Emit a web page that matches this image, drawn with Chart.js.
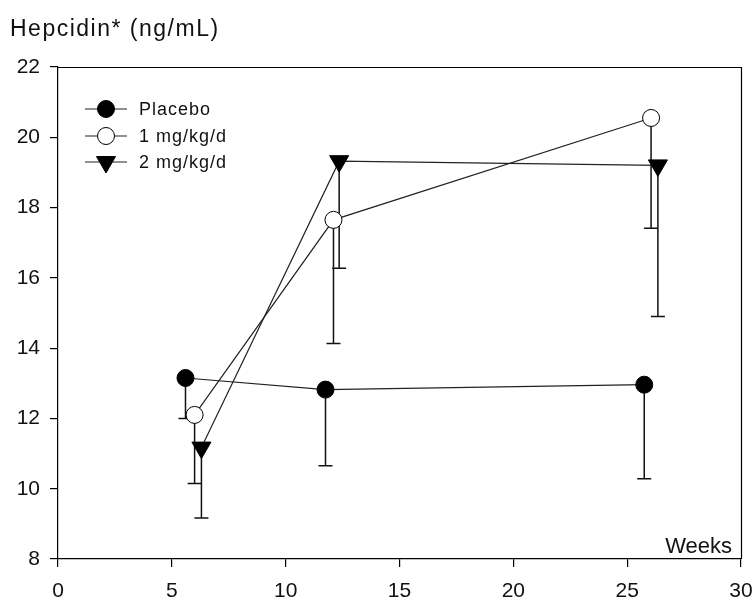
<!DOCTYPE html>
<html>
<head>
<meta charset="utf-8">
<script src="https://cdn.jsdelivr.net/npm/chart.js@4.4.0/dist/chart.umd.min.js"></script>
<style>
html,body{margin:0;padding:0;background:#fff;}
#wrap{width:756px;height:599px;}
</style>
</head>
<body>
<div id="wrap"><canvas id="c" width="756" height="599"></canvas></div>
<script>
// ---- data ----
const seriesNames = ["Placebo", "1 mg/kg/d", "2 mg/kg/d"];
const placeboWeeks = [5.6, 11.75, 25.75];
const placeboMean  = [13.15, 12.82, 12.96];
const placeboLower = [12.0, 10.65, 10.28];
const dose1Weeks = [6.0, 12.1, 26.05];
const dose1Mean  = [12.1, 17.65, 20.55];
const dose1Lower = [10.15, 14.13, 17.41];
const dose2Weeks = [6.3, 12.35, 26.35];
const dose2Mean  = [11.17, 19.32, 19.2];
const dose2Lower = [9.17, 16.27, 14.9];
const xTicks = [0, 5, 10, 15, 20, 25, 30];
const yTicks = [8, 10, 12, 14, 16, 18, 20, 22];
const titleText = "Hepcidin* (ng/mL)";
const xTitleText = "Weeks";

function pts(w, m) { return w.map((x, i) => ({x: x, y: m[i]})); }

const styles = [
  {pointStyle: 'circle', radius: 8.5, fill: '#000', rotation: 0},
  {pointStyle: 'circle', radius: 8.5, fill: '#fff', rotation: 0},
  {pointStyle: 'triangle', radius: 11, fill: '#000', rotation: 180}
];
const lowers = [placeboLower, dose1Lower, dose2Lower];

const datasets = [
  [placeboWeeks, placeboMean], [dose1Weeks, dose1Mean], [dose2Weeks, dose2Mean]
].map((d, i) => ({
  label: seriesNames[i],
  data: pts(d[0], d[1]),
  borderColor: '#222',
  borderWidth: 1.2,
  pointStyle: styles[i].pointStyle,
  pointRadius: styles[i].radius,
  pointRotation: styles[i].rotation,
  pointBackgroundColor: styles[i].fill,
  pointBorderColor: '#000',
  pointBorderWidth: 1,
  showLine: true,
  tension: 0
}));

const FONT = '"Liberation Sans", Arial, sans-serif';

const extras = {
  id: 'extras',
  beforeDatasetsDraw(chart) {
    const ctx = chart.ctx;
    const xs = chart.scales.x, ys = chart.scales.y;
    ctx.save();
    ctx.strokeStyle = '#111';
    ctx.lineWidth = 1.5;
    chart.data.datasets.forEach((ds, i) => {
      ds.data.forEach((p, j) => {
        const px = xs.getPixelForValue(p.x);
        const py = ys.getPixelForValue(p.y);
        const pl = ys.getPixelForValue(lowers[i][j]);
        ctx.beginPath();
        ctx.moveTo(px, py);
        ctx.lineTo(px, pl);
        ctx.moveTo(px - 7, pl);
        ctx.lineTo(px + 7, pl);
        ctx.stroke();
      });
    });
    ctx.restore();
  },
  afterDraw(chart) {
    const ctx = chart.ctx;
    const a = chart.chartArea;
    ctx.save();
    // box
    ctx.strokeStyle = '#000';
    ctx.lineWidth = 1.2;
    ctx.beginPath();
    ctx.moveTo(a.left, a.top + 0.5);
    ctx.lineTo(a.right + 0.5, a.top + 0.5);
    ctx.lineTo(a.right + 0.5, a.bottom);
    ctx.stroke();
    // title
    ctx.fillStyle = '#111';
    ctx.textBaseline = 'alphabetic';
    ctx.textAlign = 'left';
    ctx.font = '23px ' + FONT;
    ctx.letterSpacing = '1.5px';
    ctx.fillText(titleText, 10, 36);
    ctx.letterSpacing = '0px';
    // x title
    ctx.font = '22px ' + FONT;
    ctx.textAlign = 'right';
    ctx.fillText(xTitleText, a.right - 9, a.bottom - 6);
    // legend
    const rows = [109, 136, 162];
    ctx.font = '18px ' + FONT;
    ctx.textAlign = 'left';
    ctx.textBaseline = 'middle';
    chart.data.datasets.forEach((ds, i) => {
      const y = rows[i];
      ctx.strokeStyle = '#222';
      ctx.lineWidth = 1.2;
      ctx.beginPath();
      ctx.moveTo(85, y);
      ctx.lineTo(127, y);
      ctx.stroke();
      ctx.fillStyle = ds.pointBackgroundColor;
      ctx.strokeStyle = '#000';
      ctx.lineWidth = 1;
      Chart.helpers.drawPoint(ctx, {
        pointStyle: ds.pointStyle,
        rotation: ds.pointRotation,
        radius: ds.pointRadius,
        borderWidth: 1
      }, 106, y);
      ctx.fillStyle = '#111';
      ctx.letterSpacing = '1px';
      ctx.fillText(ds.label, 139, y + 1);
      ctx.letterSpacing = '0px';
    });
    ctx.restore();
  }
};

new Chart(document.getElementById('c'), {
  type: 'scatter',
  data: {datasets: datasets},
  options: {
    responsive: false,
    animation: false,
    layout: {padding: {top: 67, right: 15, left: 0, bottom: 0}},
    plugins: {legend: {display: false}, tooltip: {enabled: false}},
    scales: {
      x: {
        type: 'linear', min: 0, max: 30,
        afterBuildTicks(s) { s.ticks = xTicks.map(v => ({value: v})); },
        afterFit(s) { s.height = 40; s.paddingLeft = 0; s.paddingRight = 0; },
        grid: {display: true, drawOnChartArea: false, tickLength: 8, color: '#000', lineWidth: 1.2},
        border: {display: true, color: '#000', width: 1.2},
        ticks: {font: {size: 21, family: FONT}, color: '#111', padding: 12, maxRotation: 0}
      },
      y: {
        type: 'linear', min: 8, max: 22,
        afterBuildTicks(s) { s.ticks = yTicks.map(v => ({value: v})); },
        afterFit(s) { s.width = 58; s.paddingTop = 0; s.paddingBottom = 0; },
        grid: {display: true, drawOnChartArea: false, tickLength: 8, color: '#000', lineWidth: 1.2},
        border: {display: true, color: '#000', width: 1.2},
        ticks: {font: {size: 21, family: FONT}, color: '#111', padding: 10}
      }
    }
  },
  plugins: [extras]
});
</script>
</body>
</html>
